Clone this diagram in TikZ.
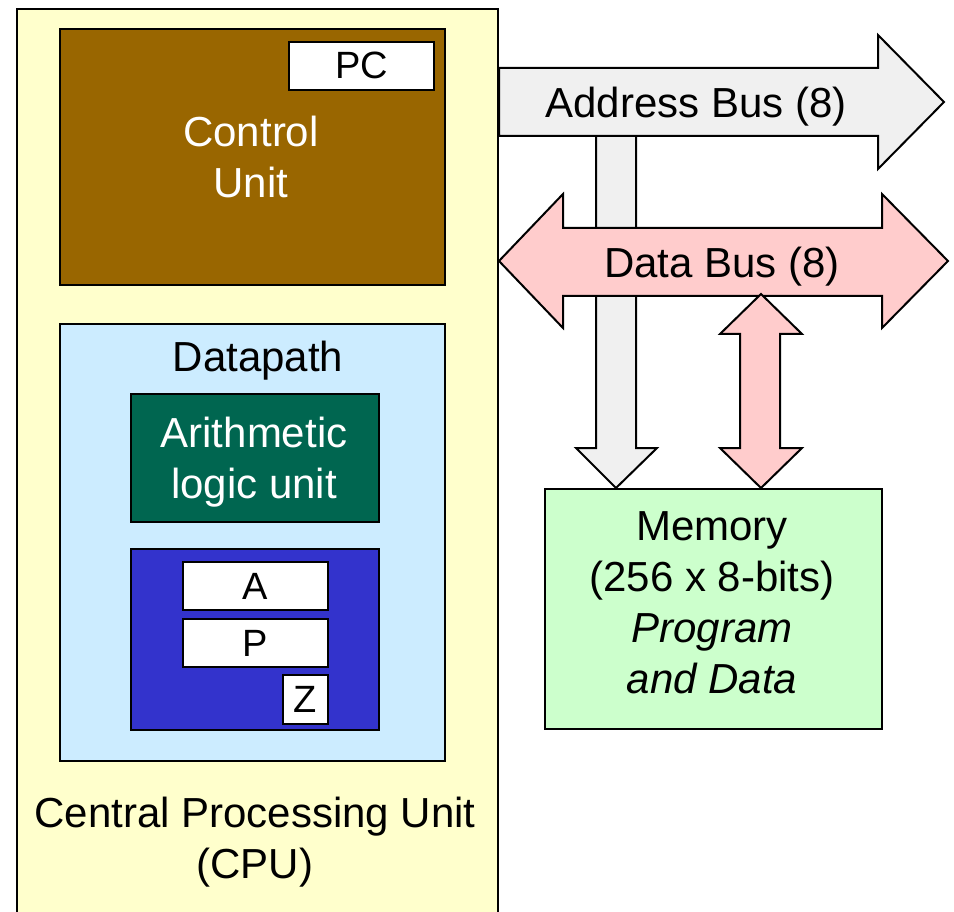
\documentclass[tikz,border=0pt]{standalone}
\usepackage{fontspec}
\setmainfont{Liberation Sans}
\begin{document}
\begin{tikzpicture}[x=1pt,y=-1pt,
  box/.style={draw=black,line width=2pt,rectangle,inner sep=0pt,anchor=north west},
  lbl/.style={font=\fontsize{42}{51}\selectfont,inner sep=0pt,align=center,anchor=base},
  reg/.style={font=\fontsize{38}{46}\selectfont,inner sep=0pt,anchor=base},
  bus/.style={draw=black,line width=2pt,line join=miter}]
\definecolor{cpuY}{HTML}{FFFFCC}
\definecolor{cuBrown}{HTML}{996600}
\definecolor{dpBlue}{HTML}{CCECFF}
\definecolor{aluGreen}{HTML}{006650}
\definecolor{regBlue}{HTML}{3333CC}
\definecolor{memGreen}{HTML}{CCFFCC}
\definecolor{addrGray}{HTML}{F0F0F0}
\definecolor{dataPink}{HTML}{FFCCCC}

\useasboundingbox (0,0) rectangle (954,912);
\clip (0,0) rectangle (954,912);

% CPU and its parts (multi-line labels are placed by the baseline of their last line)
\node[box,fill=cpuY,minimum width=481pt,minimum height=940pt] (cpu) at (16,8) {};
\node[box,fill=cuBrown,minimum width=385pt,minimum height=256pt] (cu) at (59,28) {};
\node[box,fill=white,minimum width=145pt,minimum height=48pt] (pc) at (288,41) {};
\node[reg] at ([yshift=-13pt]pc.center) {PC};
\node[lbl,text=white] at (251,198) {Control\\Unit};

\node[box,fill=dpBlue,minimum width=385pt,minimum height=437pt] (dp) at (59,323) {};
\node[lbl] at (258,371) {Datapath};
\node[box,fill=aluGreen,minimum width=248pt,minimum height=128pt] (alu) at (130,393) {};
\node[lbl,text=white] at (254,498) {Arithmetic\\logic unit};

\node[box,fill=regBlue,minimum width=248pt,minimum height=181pt] (regs) at (130,548) {};
\node[box,fill=white,minimum width=145pt,minimum height=48pt] (rA) at (182,561) {};
\node[reg] at ([yshift=-13pt]rA.center) {A};
\node[box,fill=white,minimum width=145pt,minimum height=48pt] (rP) at (182,618) {};
\node[reg] at ([yshift=-13pt]rP.center) {P};
\node[box,fill=white,minimum width=45pt,minimum height=49pt] (rZ) at (282,674) {};
\node[reg] at ([yshift=-13pt]rZ.center) {Z};

\node[lbl] at (255,878) {Central Processing Unit\\(CPU)};

% Memory
\node[box,fill=memGreen,minimum width=337pt,minimum height=240pt] (mem) at (544,488) {};
\node[lbl] at (712,693) {Memory\\(256 x 8-bits)\\\textit{Program}\\\textit{and Data}};

% Address bus: branch down to memory, then the main arrow over it
\draw[bus,fill=addrGray] (596,136) -- (596,448) -- (576,448) -- (mem.north -| 616,0)
  -- (657,448) -- (636,448) -- (636,136);
\draw[bus,fill=addrGray] (cpu.east |- 0,68) -- (878,68) -- (878,35) -- (944,102)
  -- (878,169) -- (878,136) -- (cpu.east |- 0,136) -- cycle;
\node[lbl] at (696,118) {Address Bus (8)};

% Data bus, two-way
\draw[bus,fill=dataPink] (cpu.east |- 0,261) -- (563,194) -- (563,228) -- (882,228)
  -- (882,194) -- (948,261) -- (882,328) -- (882,296) -- (563,296) -- (563,328) -- cycle;
\node[lbl] at (722,278) {Data Bus (8)};

% Data link between the bus and memory
\draw[bus,fill=dataPink] (761,294) -- (802,334) -- (780,334) -- (780,448) -- (802,448)
  -- (mem.north -| 761,0) -- (720,448) -- (740,448) -- (740,334) -- (720,334) -- cycle;
\end{tikzpicture}
\end{document}
